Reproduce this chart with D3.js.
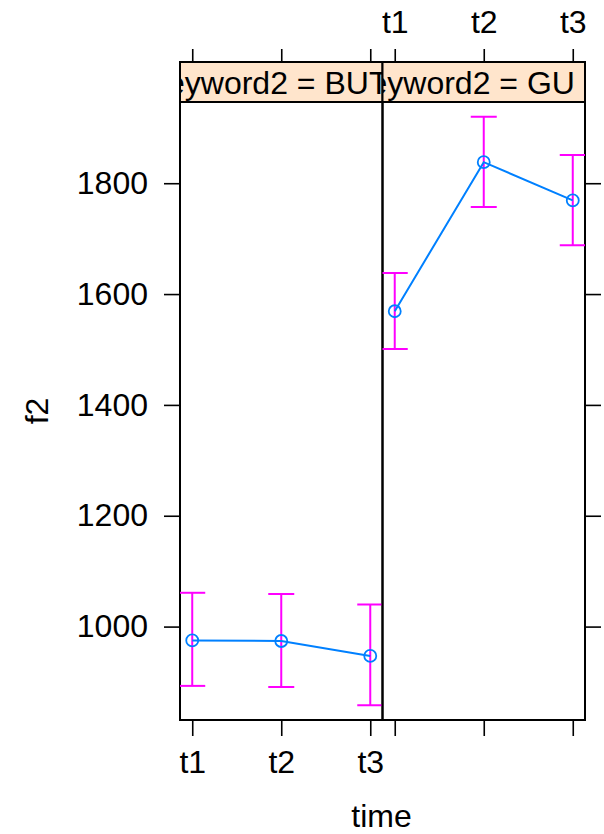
<!DOCTYPE html>
<html>
<head>
<meta charset="utf-8">
<script src="https://cdn.jsdelivr.net/npm/d3@7"></script>
<style>
  html, body { margin: 0; padding: 0; background: #fff; }
  svg { display: block; font-family: "Liberation Sans", Arial, sans-serif; }
</style>
</head>
<body>
<script>
// Effect of time on f2, one panel per keyword2 level
const times = ["t1", "t2", "t3"];
const keywords = ["BUT", "GU"];
const fitBUT = [975, 974, 947];
const lowerBUT = [893, 891, 858];
const upperBUT = [1061, 1059, 1040];
const fitGU = [1569, 1838, 1769];
const lowerGU = [1501, 1757, 1688];
const upperGU = [1638, 1920, 1851];
const yTicks = [1000, 1200, 1400, 1600, 1800];
const stripVar = "keyword2";
const xTitle = "time";
const yTitle = "f2";

const panels = [
  { key: keywords[0], fit: fitBUT, lower: lowerBUT, upper: upperBUT },
  { key: keywords[1], fit: fitGU, lower: lowerGU, upper: upperGU }
];

const W = 604, H = 834;
const plotLeft = 180, plotRight = 585, stripTop = 62, plotTop = 102, plotBottom = 720;
const pw = (plotRight - plotLeft) / panels.length;
const fontSize = 32;
const lineCol = "#0080ff", barCol = "#ff00ff";

const svg = d3.select("body").append("svg").attr("width", W).attr("height", H);

// shared y scale, padded around the confidence limits
const yMin = d3.min(panels, p => d3.min(p.lower));
const yMax = d3.max(panels, p => d3.max(p.upper));
const pad = (yMax - yMin) * 0.025;
const y = d3.scaleLinear().domain([yMin - pad, yMax + pad]).range([plotBottom, plotTop]);

const x = d3.scalePoint().domain(times).range([0, pw]).padding(0.1375);

panels.forEach((p, i) => {
  const x0 = plotLeft + i * pw;
  const g = svg.append("g").attr("transform", `translate(${x0},0)`);

  const clipId = "clip" + i;
  svg.append("clipPath").attr("id", clipId)
    .append("rect").attr("x", x0).attr("y", plotTop).attr("width", pw).attr("height", plotBottom - plotTop);
  const sclipId = "sclip" + i;
  svg.append("clipPath").attr("id", sclipId)
    .append("rect").attr("x", x0).attr("y", stripTop).attr("width", pw).attr("height", plotTop - stripTop);

  // strip
  g.append("rect").attr("x", 0).attr("y", stripTop).attr("width", pw).attr("height", plotTop - stripTop)
    .attr("fill", "#ffe5cc");
  svg.append("g").attr("clip-path", `url(#${sclipId})`)
    .append("text")
    .attr("x", x0 - 29).attr("y", (stripTop + plotTop) / 2 + fontSize * 0.36)
    .attr("font-size", fontSize).attr("fill", "#000")
    .text(`${stripVar} = ${p.key}`);
  g.append("rect").attr("x", 0).attr("y", stripTop).attr("width", pw).attr("height", plotTop - stripTop)
    .attr("fill", "none").attr("stroke", "#000").attr("stroke-width", 2);

  // data
  const d = times.map((t, j) => ({ t, fit: p.fit[j], lo: p.lower[j], hi: p.upper[j] }));
  const dg = svg.append("g").attr("clip-path", `url(#${clipId})`)
    .append("g").attr("transform", `translate(${x0},0)`);

  const cap = 13;
  const bars = dg.selectAll("g.bar").data(d).join("g").attr("class", "bar")
    .attr("stroke", barCol).attr("stroke-width", 2).attr("fill", "none");
  bars.append("line").attr("x1", e => x(e.t)).attr("x2", e => x(e.t))
    .attr("y1", e => y(e.lo)).attr("y2", e => y(e.hi));
  bars.append("line").attr("x1", e => x(e.t) - cap).attr("x2", e => x(e.t) + cap)
    .attr("y1", e => y(e.lo)).attr("y2", e => y(e.lo));
  bars.append("line").attr("x1", e => x(e.t) - cap).attr("x2", e => x(e.t) + cap)
    .attr("y1", e => y(e.hi)).attr("y2", e => y(e.hi));

  dg.append("path").datum(d)
    .attr("d", d3.line().x(e => x(e.t)).y(e => y(e.fit)))
    .attr("fill", "none").attr("stroke", lineCol).attr("stroke-width", 2);
  dg.selectAll("circle").data(d).join("circle")
    .attr("cx", e => x(e.t)).attr("cy", e => y(e.fit)).attr("r", 6)
    .attr("fill", "none").attr("stroke", lineCol).attr("stroke-width", 1.8);

  // panel border
  g.append("rect").attr("x", 0).attr("y", plotTop).attr("width", pw).attr("height", plotBottom - plotTop)
    .attr("fill", "none").attr("stroke", "#000").attr("stroke-width", 2);

  // x axes: labels alternate between bottom (first panel) and top (second panel)
  const bAxis = d3.axisBottom(x).tickSize(15).tickPadding(14)
    .tickFormat(i === 0 ? (t => t) : () => "");
  const ba = g.append("g").attr("transform", `translate(0,${plotBottom + 1})`).call(bAxis);
  const tAxis = d3.axisTop(x).tickSize(12).tickPadding(16)
    .tickFormat(i === 1 ? (t => t) : () => "");
  const ta = g.append("g").attr("transform", `translate(0,${stripTop - 1})`).call(tAxis);
  [ba, ta].forEach(a => {
    a.select(".domain").remove();
    a.selectAll("line").attr("stroke", "#000").attr("stroke-width", 1.6);
    a.selectAll("text").attr("font-size", fontSize).attr("fill", "#000")
      .attr("font-family", "Liberation Sans, Arial, sans-serif");
  });
});

// y axes: labelled on the left, ticks only on the right
const la = svg.append("g").attr("transform", `translate(${plotLeft - 1},0)`)
  .call(d3.axisLeft(y).tickValues(yTicks).tickSize(15).tickPadding(16).tickFormat(d3.format("d")));
const ra = svg.append("g").attr("transform", `translate(${plotRight + 1},0)`)
  .call(d3.axisRight(y).tickValues(yTicks).tickSize(15).tickFormat(() => ""));
[la, ra].forEach(a => {
  a.select(".domain").remove();
  a.selectAll("line").attr("stroke", "#000").attr("stroke-width", 1.6);
  a.selectAll("text").attr("font-size", fontSize).attr("fill", "#000")
    .attr("font-family", "Liberation Sans, Arial, sans-serif");
});

// axis titles
svg.append("text").attr("x", (plotLeft + plotRight) / 2 - 1).attr("y", 827)
  .attr("text-anchor", "middle").attr("font-size", fontSize).text(xTitle);
svg.append("text").attr("transform", `translate(48,${(plotTop + plotBottom) / 2}) rotate(-90)`)
  .attr("text-anchor", "middle").attr("font-size", fontSize).text(yTitle);
</script>
</body>
</html>
